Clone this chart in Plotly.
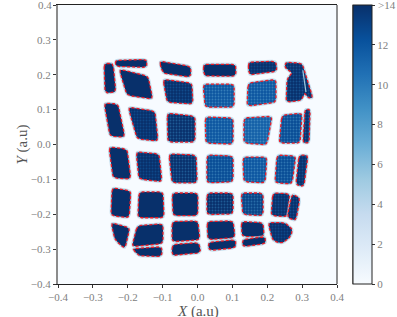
import plotly.graph_objects as go
from plotly.colors import sample_colorscale

BLUES = ["#f7fbff", "#deebf7", "#c6dbef", "#9ecae1", "#6baed6", "#4292c6", "#2171b5", "#08519c", "#08306b"]
axis_ticks = [-0.4, -0.3, -0.2, -0.1, 0.0, 0.1, 0.2, 0.3, 0.4]
cbar_ticks = [0, 2, 4, 6, 8, 10, 12, 14]
cbar_labels = ["0", "2", "4", "6", "8", "10", "12", ">14"]
x_title = "<i>X</i> (a.u)"
y_title = "<i>Y</i> (a.u)"

# name: x corners, y corners, estimated count level
A = ([-.268, -.242, -.234, -.265], [.233, .233, .150, .147], 14)
B = ([-.237, -.145, -.145, -.234], [.241, .244, .221, .224], 14)
C = ([-.225, -.142, -.128, -.202], [.216, .196, .130, .141], 14)
D = ([-.110, -.019, -.019, -.099], [.239, .224, .193, .204], 14)
E = ([-.099, -.016, -.013, -.087], [.187, .176, .116, .121], 13)
F = ([.016, .110, .110, .019], [.230, .230, .196, .196], 14)
G = ([.016, .105, .105, .022], [.173, .173, .107, .107], 9.5)
H = ([.145, .225, .228, .148], [.236, .239, .210, .199], 13.5)
I = ([.145, .225, .225, .142], [.176, .187, .121, .110], 9.5)
J = ([.251, .300, .331, .317, .308, .300, .254, .257, .274, .251],
     [.236, .233, .133, .133, .150, .127, .121, .190, .204, .219], 12.5)
K = ([-.268, -.228, -.208, -.251], [.119, .116, .021, .024], 14)
L = ([-.199, -.122, -.113, -.173], [.107, .096, .010, .016], 13.5)
M = ([-.087, -.007, -.007, -.085], [.090, .081, .007, .007], 11.5)
N = ([.022, .102, .102, .024], [.079, .076, .001, .004], 9.5)
O = ([.133, .214, .199, .133], [.076, .081, -.001, .004], 9)
P = ([.242, .300, .294, .234], [.084, .090, .004, .004], 10)
Q = ([.308, .323, .320, .302], [.101, .101, .004, .004], 12)
R = ([-.254, -.202, -.191, -.242], [-.007, -.013, -.099, -.096], 14)
S = ([-.176, -.110, -.102, -.168], [-.021, -.027, -.107, -.099], 13.5)
T = ([-.082, -.004, -.001, -.073], [-.027, -.030, -.110, -.110], 11.5)
U = ([.027, .102, .102, .027], [-.030, -.033, -.107, -.110], 10)
V = ([.130, .199, .194, .133], [-.036, -.036, -.110, -.107], 9.5)
W = ([.228, .282, .271, .222], [-.030, -.033, -.113, -.110], 10)
X = ([.291, .317, .305, .282], [-.030, -.030, -.121, -.116], 13)
Y = ([-.245, -.191, -.196, -.248], [-.124, -.133, -.210, -.204], 14)
Z = ([-.168, -.099, -.096, -.171], [-.136, -.136, -.210, -.210], 14)
AA = ([-.073, .001, .001, -.070], [-.139, -.139, -.204, -.204], 14)
AB = ([.027, .102, .102, .027], [-.139, -.139, -.199, -.201], 11.5)
AC = ([.125, .188, .188, .130], [-.139, -.139, -.204, -.201], 10.5)
AD = ([.216, .265, .257, .211], [-.139, -.141, -.207, -.204], 13)
AE = ([.271, .294, .282, .257], [-.141, -.153, -.219, -.210], 13)
AF = ([-.248, -.194, -.208, -.237], [-.224, -.239, -.299, -.273], 14)
AG = ([-.173, -.099, -.099, -.188], [-.233, -.227, -.284, -.293], 14)
AH = ([-.188, -.102, -.102, -.165], [-.299, -.293, -.321, -.321], 14)
AI = ([-.073, .001, .007, -.073], [-.221, -.219, -.273, -.279], 14)
AJ = ([-.073, .004, .010, -.073], [-.287, -.281, -.310, -.319], 14)
AK = ([.027, .102, .108, .030], [-.221, -.219, -.267, -.273], 14)
AL = ([.030, .110, .110, .033], [-.281, -.273, -.296, -.304], 14)
AM = ([.125, .188, .191, .128], [-.221, -.224, -.264, -.264], 14)
AN = ([.128, .194, .196, .130], [-.273, -.264, -.284, -.293], 14)
AO = ([.202, .251, .274, .265, .242, .216], [-.224, -.224, -.244, -.267, -.284, -.276], 13.5)
cells = [A, B, C, D, E, F, G, H, I, J, K, L, M, N, O, P, Q, R, S, T, U, V, W, X, Y, Z,
         AA, AB, AC, AD, AE, AF, AG, AH, AI, AJ, AK, AL, AM, AN, AO]
# pale seams inside merged cells
seam_x = [.302, .311]
seam_y = [.213, .150]

TICK_GREY = "#808080"
colorscale = [[i / 8, c] for i, c in enumerate(BLUES)]


def colour(v):
    return sample_colorscale(colorscale, [max(0, min(v, 14)) / 14])[0]


def rounded(xs, ys, r=0.011):
    """Round polygon corners with short quadratic curves."""
    n = len(xs)
    ox, oy = [], []
    for i in range(n):
        px, py = xs[i - 1], ys[i - 1]
        cx, cy = xs[i], ys[i]
        nx, ny = xs[(i + 1) % n], ys[(i + 1) % n]
        d1 = ((cx - px) ** 2 + (cy - py) ** 2) ** 0.5
        d2 = ((nx - cx) ** 2 + (ny - cy) ** 2) ** 0.5
        a = min(r / d1, 0.45)
        b = min(r / d2, 0.45)
        sx, sy = cx + (px - cx) * a, cy + (py - cy) * a
        ex, ey = cx + (nx - cx) * b, cy + (ny - cy) * b
        for t in (0, 0.25, 0.5, 0.75, 1):
            ox.append((1 - t) ** 2 * sx + 2 * t * (1 - t) * cx + t ** 2 * ex)
            oy.append((1 - t) ** 2 * sy + 2 * t * (1 - t) * cy + t ** 2 * ey)
    ox.append(ox[0])
    oy.append(oy[0])
    return ox, oy


fig = go.Figure()
fig.add_trace(go.Heatmap(
    z=[[0]], x=[0], y=[0], dx=0.8, dy=0.8, zmin=0, zmax=14, colorscale=colorscale,
    hoverinfo="skip",
    colorbar=dict(
        x=(353 - 58) / 279, xref="paper", xanchor="left", y=1, yanchor="top",
        thickness=19, thicknessmode="pixels", len=1, lenmode="fraction",
        tickvals=cbar_ticks, ticktext=cbar_labels, ticks="outside", ticklen=3,
        tickcolor="#333", tickwidth=1, outlinecolor="#222", outlinewidth=1,
        tickfont=dict(family="Liberation Serif", size=11, color=TICK_GREY),
        xpad=0, ypad=0,
    ),
))

for xs, ys, v in cells:
    ox, oy = rounded(xs, ys)
    fig.add_trace(go.Scatter(x=ox, y=oy, mode="lines", hoverinfo="skip", showlegend=False,
                             line=dict(color="rgba(158,202,225,0.6)", width=3)))
    tr = dict(x=ox, y=oy, mode="lines", fill="toself", hoverinfo="skip", showlegend=False,
              line=dict(color="rgba(0,0,0,0)", width=0))
    if v >= 13.8:
        tr["fillcolor"] = colour(14)
    else:
        tr["fillcolor"] = colour(v + 2.5)
        tr["fillpattern"] = dict(shape=".", size=3, solidity=0.3,
                                 bgcolor=colour(v + 2.5), fgcolor=colour(v - 2))
    fig.add_trace(go.Scatter(**tr))
    fig.add_trace(go.Scatter(x=ox, y=oy, mode="lines", hoverinfo="skip", showlegend=False,
                             line=dict(color="#ee1c25", width=1.3, dash="3px,2px")))

fig.add_trace(go.Scatter(x=seam_x, y=seam_y, mode="lines", hoverinfo="skip", showlegend=False,
                         line=dict(color="#9ecae1", width=1.2)))

axis = dict(
    tickvals=axis_ticks, tickformat=".1f", ticks="outside", ticklen=3, automargin=False,
    tickcolor="#333", showgrid=False, zeroline=False, showline=True,
    tickfont=dict(family="Liberation Serif", size=11, color=TICK_GREY),
)
title_font = dict(family="Liberation Serif", size=15, color="#555")
tick_font = dict(family="Liberation Serif", size=11, color=TICK_GREY)
fig.update_layout(
    width=397, height=317, margin=dict(l=58, r=60, t=5, b=33),
    paper_bgcolor="white", plot_bgcolor=BLUES[0], showlegend=False,
    xaxis=dict(axis, range=[-0.4, 0.4], linecolor="#222", linewidth=1, mirror=True),
    yaxis=dict(axis, range=[-0.4, 0.4], linecolor="#8c8c8c", linewidth=2),
    shapes=[
        dict(type="line", xref="paper", yref="paper", x0=1, x1=1, y0=0, y1=1,
             line=dict(color="#222", width=1)),
        dict(type="line", xref="paper", yref="paper", x0=(353 - 58) / 279, x1=(353 - 58) / 279,
             y0=0, y1=1, line=dict(color="#8c8c8c", width=2)),
    ],
    annotations=[
        dict(text=str(axis_ticks[-1]), xref="paper", yref="y", x=(54 - 58) / 279, y=axis_ticks[-1],
             xanchor="right", yanchor="middle", showarrow=False, font=tick_font),
        dict(text=cbar_labels[-1], xref="paper", yref="paper", x=(376 - 58) / 279, y=1,
             xanchor="left", yanchor="middle", showarrow=False, font=tick_font),
        dict(text=x_title, xref="paper", yref="paper", x=0.5, y=1 - (311 - 5) / 279,
             xanchor="center", yanchor="middle", showarrow=False, font=title_font),
        dict(text=y_title, xref="paper", yref="paper", x=(22 - 58) / 279, y=0.5, textangle=-90,
             xanchor="center", yanchor="middle", showarrow=False, font=title_font),
    ],
)
fig.write_html("out.html", config={"displayModeBar": False},
               post_script="document.body.style.margin='0';document.documentElement.style.overflow='hidden';")
